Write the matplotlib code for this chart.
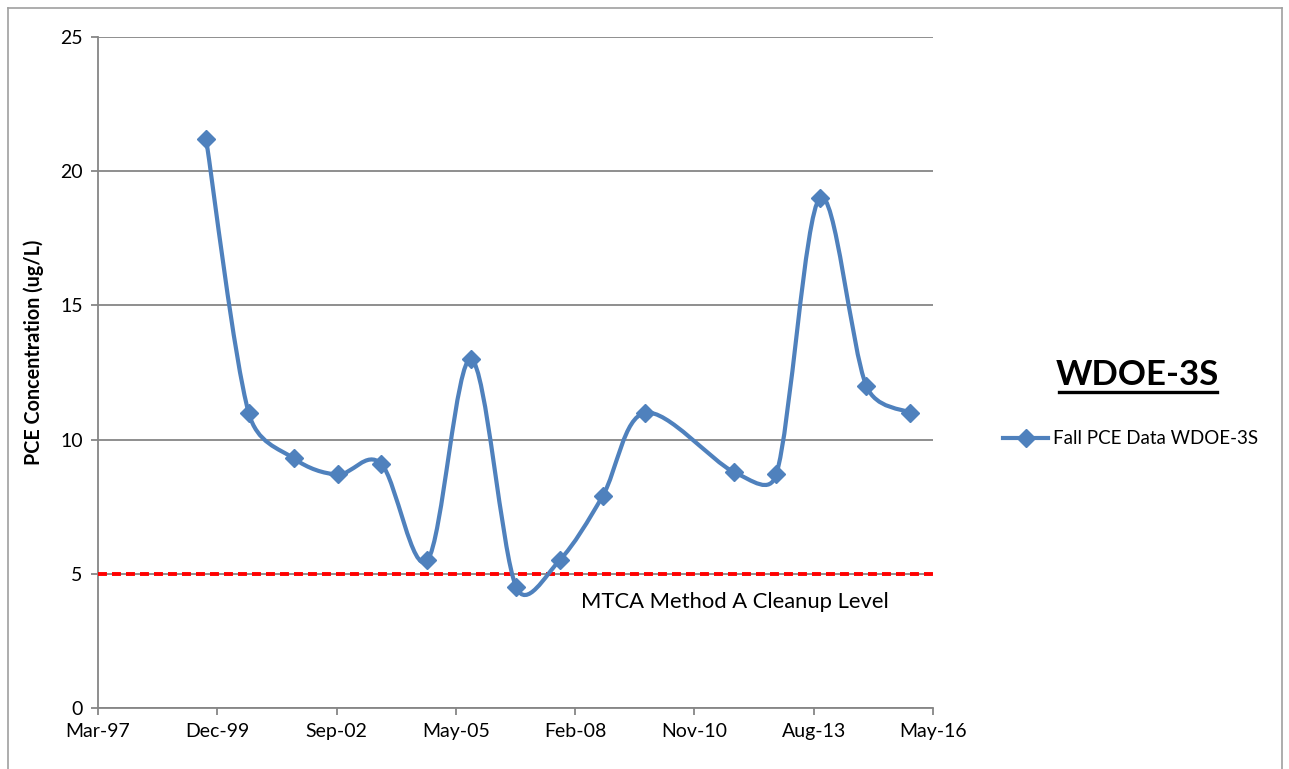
import numpy as np
import matplotlib
matplotlib.use('Agg')
import matplotlib.pyplot as plt
import matplotlib.dates as mdates
from matplotlib.path import Path
from matplotlib.patches import PathPatch
from matplotlib.lines import Line2D
import datetime as dt

plt.rcParams['font.family'] = ['Lato', 'DejaVu Sans']

# fall sampling events (dates) and PCE results
dates = ['1999-09-03', '2000-08-25', '2001-09-06', '2002-09-11', '2003-09-10',
         '2004-10-01', '2005-10-03', '2006-10-16', '2007-10-14', '2008-10-10',
         '2009-10-02', '2011-10-12', '2012-10-04', '2013-10-04', '2014-10-29',
         '2015-10-28']
pce = [21.2, 11.0, 9.3, 8.7, 9.1, 5.5, 13.0, 4.5, 5.5, 7.9, 11.0, 8.8, 8.7, 19.0, 12.0, 11.0]
cleanup = 5.0
series_name = 'Fall PCE Data WDOE-3S'
well = 'WDOE-3S'

blue = '#4F81BD'
grid_c = '#868686'

x = mdates.date2num([dt.datetime.strptime(s, '%Y-%m-%d') for s in dates])
y = np.array(pce)

# excel style axis: serial 35500 .. 42500, step 1000 days
x0 = mdates.date2num(dt.datetime(1997, 3, 11))
ticks = x0 + np.arange(0, 7001, 1000)

fig = plt.figure(figsize=(12.89, 7.69), dpi=100)
ax = fig.add_axes([98 / 1289, 61 / 769, 835 / 1289, 671 / 769])
ax.set_xlim(ticks[0], ticks[-1])
ax.set_ylim(0, 25)

# smoothed line, bezier in screen space with control points capped at half a segment
pts = ax.transData.transform(np.column_stack([x, y]))
verts = [pts[0]]
codes = [Path.MOVETO]
n = len(pts)
for i in range(n - 1):
    pm = pts[i - 1] if i > 0 else pts[i]
    p0 = pts[i]
    p1 = pts[i + 1]
    p2 = pts[i + 2] if i + 2 < n else pts[i + 1]
    seg = np.hypot(*(p1 - p0))
    t1 = p1 - pm
    t2 = p2 - p0
    f1 = min(1 / 6, seg / 2 / max(np.hypot(*t1), 1e-9))
    f2 = min(1 / 6, seg / 2 / max(np.hypot(*t2), 1e-9))
    verts += [p0 + t1 * f1, p1 - t2 * f2, p1]
    codes += [Path.CURVE4] * 3
verts = ax.transData.inverted().transform(np.array(verts))
ax.add_patch(PathPatch(Path(verts, codes), facecolor='none', edgecolor=blue,
                       lw=3, zorder=4, capstyle='round', joinstyle='round'))
ax.plot(x, y, ls='none', marker='D', ms=9, color=blue, zorder=5)

ax.axhline(cleanup, color='red', lw=2.8, ls=(0, (2.3, 1.3)), zorder=3)
ax.text(x0 + 4048, 3.95, 'MTCA Method A Cleanup Level', fontsize=15.8, va='center')

ax.set_xticks(ticks)
ax.xaxis.set_major_formatter(mdates.DateFormatter('%b-%y'))
ax.set_yticks(np.arange(0, 26, 5))
ax.yaxis.grid(True, color=grid_c, lw=1.3)
ax.set_axisbelow(True)
for s in ['top', 'right']:
    ax.spines[s].set_visible(False)
for s in ['left', 'bottom']:
    ax.spines[s].set_color(grid_c)
    ax.spines[s].set_linewidth(1.3)
ax.tick_params(axis='both', color=grid_c, width=1.3, length=5, labelsize=14, pad=6)
ax.set_ylabel('PCE Concentration (ug/L)', fontsize=14.2, fontweight='bold')
ax.yaxis.set_label_coords(-54 / 835, 0.53)

# well name and legend on the right
fig.text(1137 / 1289, 1 - 375 / 769, well, fontsize=25, fontweight='bold',
         ha='center', va='center')
fig.add_artist(Line2D([1059 / 1289, 1217 / 1289], [1 - 392 / 769, 1 - 392 / 769],
                      color='black', lw=2.4))
leg = ax.legend([Line2D([], [], color=blue, lw=3, marker='D', ms=9)], [series_name],
                loc='center left', bbox_to_anchor=(1003 / 1289, 1 - 439 / 769),
                bbox_transform=fig.transFigure, frameon=False, fontsize=13.5,
                handlelength=2.4, handletextpad=0.25, borderpad=0, borderaxespad=0)

# chart area border
for xs, ys in [([8, 1282], [8, 8]), ([8, 8], [8, 769]), ([1282, 1282], [8, 769])]:
    fig.add_artist(Line2D([v / 1289 for v in xs], [1 - v / 769 for v in ys],
                          color='#A0A0A0', lw=1.2))

fig.savefig('out.png', dpi=100, facecolor='white')
